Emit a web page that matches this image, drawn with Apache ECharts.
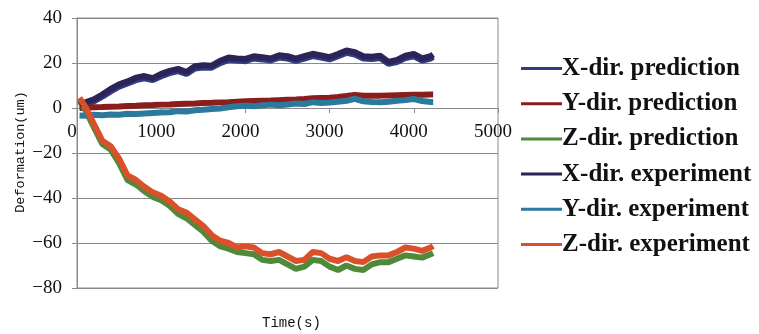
<!DOCTYPE html>
<html><head><meta charset="utf-8">
<script src="https://cdn.jsdelivr.net/npm/echarts@6/dist/echarts.min.js"></script>
<style>html,body{margin:0;padding:0;background:#fff}#c{width:759px;height:334px}</style>
</head><body><div id="c"></div>
<script>
const times = [30,100,200,300,400,500,600,700,800,900,1000,1100,1200,1300,1400,1500,1600,1700,1800,1900,2000,2100,2200,2300,2400,2500,2600,2700,2800,2900,3000,3100,3200,3300,3400,3500,3600,3700,3800,3900,4000,4100,4200,4230];
const xExp = [1.5,2.5,3.8,6.0,8.5,10.5,11.8,13.5,14.2,13.3,15.2,16.5,17.4,16.0,18.6,19.0,18.8,21.0,22.4,22.0,21.8,23.0,22.6,22.0,23.4,23.0,21.9,23.0,24.1,23.4,22.6,24.0,25.6,24.8,23.0,22.8,23.2,20.5,21.4,23.2,24.0,22.0,23.0,23.8];
const xPred = [0.6,1.5,2.9,5.0,7.4,9.5,10.9,12.4,13.2,12.4,14.1,15.5,16.4,15.1,17.6,18.0,17.9,19.9,21.4,21.1,20.8,22.0,21.6,21.1,22.4,22.0,21.0,22.0,23.1,22.4,21.6,23.0,24.5,23.8,22.0,21.8,22.2,19.6,20.4,22.2,23.0,21.1,22.0,22.7];
const yPred = [0.0,0.1,0.3,0.4,0.6,0.7,0.9,1.0,1.2,1.3,1.5,1.6,1.8,1.9,2.0,2.2,2.3,2.5,2.6,2.8,3.0,3.1,3.2,3.3,3.5,3.7,3.8,4.0,4.3,4.5,4.6,4.9,5.3,5.8,5.4,5.5,5.5,5.6,5.7,5.8,5.9,5.9,6.0,6.0];
const yExp = [-3.3,-3.4,-3.0,-3.2,-2.9,-3.0,-2.6,-2.7,-2.4,-2.2,-2.0,-1.9,-1.4,-1.6,-1.0,-0.8,-0.4,-0.2,0.3,0.8,1.1,0.8,1.2,1.5,1.2,1.6,2.0,1.8,2.6,2.2,2.4,2.8,3.2,4.1,3.0,2.7,2.6,2.8,3.2,3.5,4.0,3.1,2.7,2.7];
const zExp = [4.5,0.5,-7.0,-14.5,-17.0,-22.5,-30.0,-32.0,-35.0,-37.5,-39.0,-41.5,-45.0,-46.5,-49.5,-52.5,-56.5,-59.0,-60.0,-62.0,-61.5,-62.0,-64.5,-65.0,-64.0,-66.0,-68.0,-67.5,-64.0,-64.5,-67.0,-68.0,-66.3,-68.0,-68.5,-66.0,-65.5,-65.5,-64.0,-62.0,-62.5,-63.5,-62.0,-61.3];
const zPred = [3.5,-1.0,-8.5,-16.0,-18.5,-24.5,-32.0,-34.0,-37.0,-39.5,-41.0,-43.5,-47.0,-49.0,-52.0,-55.0,-59.0,-61.5,-62.5,-64.0,-64.5,-65.0,-67.5,-68.0,-67.5,-69.5,-71.5,-70.5,-67.5,-68.0,-70.5,-72.0,-70.0,-71.5,-72.0,-69.5,-68.5,-68.5,-67.0,-65.5,-66.0,-66.5,-65.0,-64.5];
const yTicks = {min:-80, max:40, interval:20};
const xTicks = {min:0, max:5000, interval:1000};

const names = ['X-dir. prediction','Y-dir. prediction','Z-dir. prediction','X-dir. experiment','Y-dir. experiment','Z-dir. experiment'];
const colors = ['#2f3d80','#8b1d1d','#4e8a3a','#2a2458','#2b7a9c','#d9502b'];
const vals = [xPred,yPred,zPred,xExp,yExp,zExp];

const W = 759, H = 334;
const grid = {left:77, right:261, top:18, bottom:46};
const plotH = H - grid.top - grid.bottom;
// move the x axis up so that it sits on the y = 0 line
const zeroOffset = -plotH * (0 - yTicks.min) / (yTicks.max - yTicks.min);

const chart = echarts.init(document.getElementById('c'));
chart.setOption({
  animation:false,
  grid:Object.assign({show:true,borderColor:'#8a8a8a',borderWidth:1}, grid),
  legend:{orient:'vertical',left:516,top:51,itemGap:10.2,icon:'rect',itemWidth:41,itemHeight:3,
    textStyle:{fontFamily:'Liberation Serif',fontWeight:'bold',fontSize:25,lineHeight:24,color:'#111',padding:[0,0,0,-5]},
    data:names},
  xAxis:{type:'value',min:xTicks.min,max:xTicks.max,interval:xTicks.interval,
    offset:zeroOffset,
    axisLine:{onZero:false,lineStyle:{color:'#8a8a8a',width:1}},
    axisTick:{show:true,length:5,inside:false,lineStyle:{color:'#8a8a8a'}},
    axisLabel:{fontFamily:'Liberation Serif',fontSize:19,color:'#111',margin:15,padding:[0,10,0,0],formatter:v=>String(v)},
    splitLine:{show:false}},
  yAxis:{type:'value',min:yTicks.min,max:yTicks.max,interval:yTicks.interval,
    axisLine:{show:true,onZero:false,lineStyle:{color:'#8a8a8a',width:1}},
    axisTick:{show:true,length:5,lineStyle:{color:'#8a8a8a'}},
    axisLabel:{fontFamily:'Liberation Serif',fontSize:19,color:'#111',margin:15,formatter:v=>String(v).replace('-','\u2212')},
    splitLine:{show:true,lineStyle:{color:'#8a8a8a',width:1}}},
  graphic:[
    {type:'text',left:262,top:316,style:{text:'Time(s)',fontFamily:'Liberation Mono',fontSize:14,fill:'#111'}},
    {type:'text',x:20,y:152,rotation:Math.PI/2,style:{text:'Deformation(um)',fontFamily:'Liberation Mono',fontSize:13.5,fill:'#111',align:'center',verticalAlign:'middle'}}
  ],
  series: names.map((n,i)=>({
    name:n,type:'line',showSymbol:false,symbol:'none',
    data: times.map((t,j)=>[t, vals[i][j]]),
    lineStyle:{color:colors[i],width:6},itemStyle:{color:colors[i]},z:2+i
  }))
});
</script></body></html>
